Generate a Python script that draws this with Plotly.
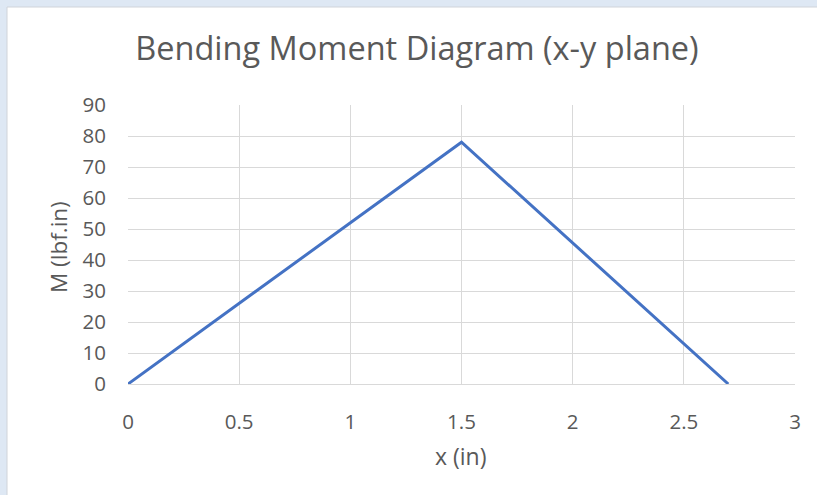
import plotly.graph_objects as go

# Bending moment along the shaft (x-y plane)
x_in = [0, 1.5, 2.7]
moment_lbf_in = [0, 78, 0]

x_ticks = [0, 0.5, 1, 1.5, 2, 2.5, 3]
x_tick_text = ["0", "0.5", "1", "1.5", "2", "2.5", "3"]
y_ticks = [0, 10, 20, 30, 40, 50, 60, 70, 80, 90]

font_family = "'Open Sans', Lato, sans-serif"
text_color = "#595959"
grid_color = "#D9D9D9"

fig = go.Figure()
fig.add_trace(go.Scatter(
    x=x_in, y=moment_lbf_in, mode="lines",
    line=dict(color="#4472C4", width=3),
    hoverinfo="x+y", showlegend=False,
))

W, H = 817, 495
L, R, T, B = 128, 22, 105, 111
pw, ph = W - L - R, H - T - B

def px_to_paper_x(px):
    return (px - L) / pw

def px_to_paper_y(py):
    return (H - B - py) / ph

# white chart panel on the light blue page
fig.add_shape(
    type="rect", xref="paper", yref="paper", layer="below",
    x0=px_to_paper_x(7), x1=px_to_paper_x(830),
    y0=px_to_paper_y(520), y1=px_to_paper_y(7),
    fillcolor="white", line=dict(color="#D0D4DA", width=1),
)

fig.update_layout(
    width=W, height=H,
    margin=dict(l=L, r=R, t=T, b=B),
    paper_bgcolor="#DEE8F4",
    plot_bgcolor="white",
    font=dict(family=font_family, color=text_color, size=20),
    title=dict(
        text="Bending Moment Diagram (x-y plane)",
        x=417 / W, xref="container", xanchor="center",
        y=1 - 49 / H, yref="container", yanchor="middle",
        font=dict(size=32.5, color=text_color, family=font_family),
    ),
    xaxis=dict(
        range=[0, 3], tickvals=x_ticks, ticktext=x_tick_text,
        showgrid=True, gridcolor=grid_color, gridwidth=1,
        zeroline=False, showline=True, linecolor=grid_color, linewidth=1,
        mirror=False, ticks="", ticklabelstandoff=19,
        tickfont=dict(size=20.5, color=text_color),
    ),
    yaxis=dict(
        range=[0, 90], tickvals=y_ticks,
        showgrid=True, gridcolor=grid_color, gridwidth=1,
        zeroline=False, showline=False, ticks="", ticklabelstandoff=21,
        tickfont=dict(size=20.5, color=text_color),
    ),
    annotations=[
        dict(text="x (in)", xref="paper", yref="paper",
             x=px_to_paper_x(461), y=px_to_paper_y(456),
             xanchor="center", yanchor="middle", showarrow=False,
             font=dict(size=23, color=text_color)),
        dict(text="M (lbf.in)", xref="paper", yref="paper",
             x=px_to_paper_x(59), y=px_to_paper_y(247),
             xanchor="center", yanchor="middle", showarrow=False,
             textangle=-90, font=dict(size=22.5, color=text_color)),
    ],
)

fig.write_html("out.html")
